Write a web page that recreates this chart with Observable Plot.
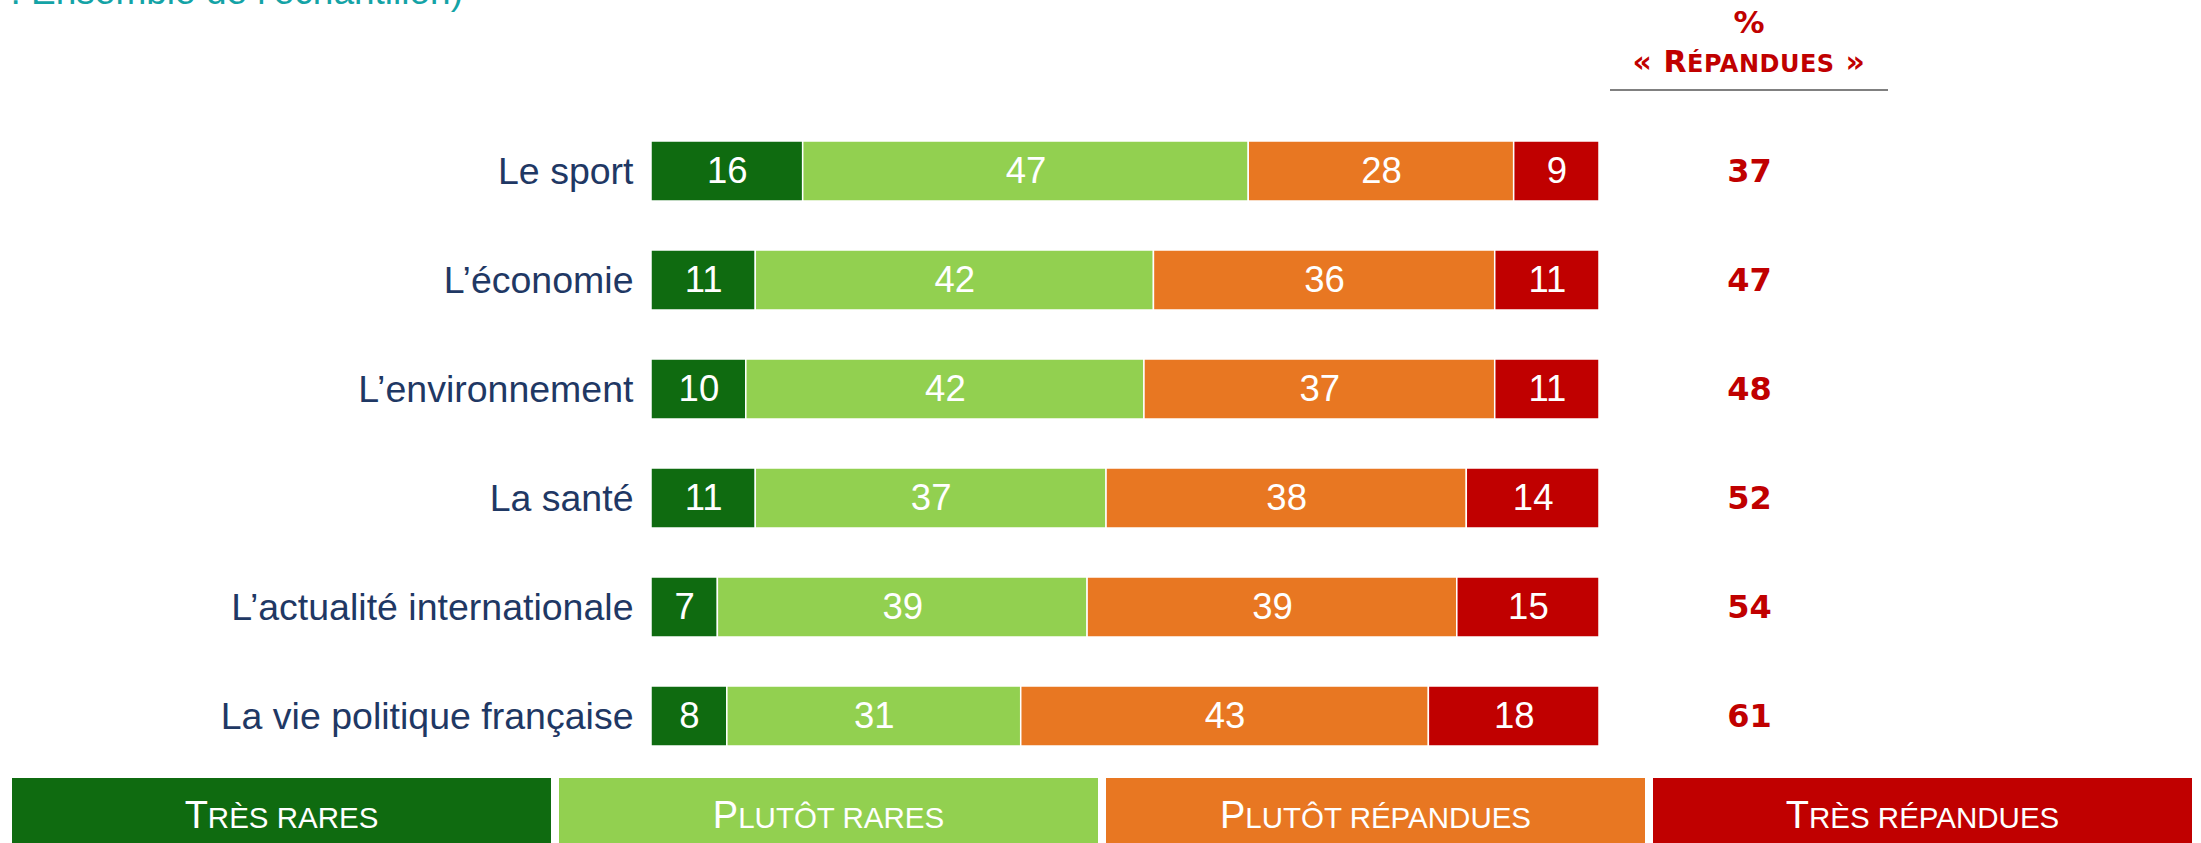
<!DOCTYPE html>
<html>
<head>
<meta charset="utf-8">
<script src="https://cdn.jsdelivr.net/npm/d3@7"></script>
<script src="https://cdn.jsdelivr.net/npm/@observablehq/plot@0.6"></script>
<style>
  html, body { margin: 0; padding: 0; background: #fff; }
  body { width: 2201px; height: 843px; overflow: hidden; position: relative; font-family: "Liberation Sans", Arial, sans-serif; }
  #chart { position: absolute; left: 0; top: 0; }
  .abs { position: absolute; white-space: nowrap; }
  #subtitle { left: 463px; top: -27px; transform: translateX(-100%); font-size: 37px; line-height: 37px; color: #14a3a6; }
  .hdr { left: 1749px; transform: translateX(-50%); font-family: "DejaVu Sans", sans-serif; font-weight: bold; color: #c00000; }
  #pct { top: 7px; font-size: 31px; line-height: 31px; }
  #rep { top: 47px; font-size: 30px; line-height: 30px; letter-spacing: 0.5px; }
  #rule { left: 1610px; top: 89px; width: 278px; height: 2px; background: #808080; }
  .leg { top: 778px; width: 539px; height: 65px; color: #fff; text-align: center; font-size: 38px; line-height: 38px; padding-top: 18px; box-sizing: border-box; }
</style>
</head>
<body>
<div id="chart"></div>
<script>
// ---- data ----
const topics = ["Le sport", "L’économie", "L’environnement", "La santé", "L’actualité internationale", "La vie politique française"];
const categories = ["Très rares", "Plutôt rares", "Plutôt répandues", "Très répandues"];
const colors = ["#0f6b10", "#92d050", "#e87722", "#c00000"];
const tresRares = [16, 11, 10, 11, 7, 8];
const plutotRares = [47, 42, 42, 37, 39, 31];
const plutotRepandues = [28, 36, 37, 38, 39, 43];
const tresRepandues = [9, 11, 11, 14, 15, 18];
const repandues = [37, 47, 48, 52, 54, 61];
const subtitle = "(Base : Ensemble de l’échantillon)";
const headerPct = "%";
const headerLabel = "Répandues";

// ---- build tables ----
const series = [tresRares, plutotRares, plutotRepandues, tresRepandues];
const rows = [];
topics.forEach((t, i) => {
  categories.forEach((c, j) => rows.push({topic: t, category: c, value: series[j][i]}));
});
const totals = topics.map((t, i) => ({topic: t, repandues: repandues[i]}));

const plot = Plot.plot({
  width: 2201,
  height: 843,
  marginLeft: 651,
  marginRight: 602,
  marginTop: 140,
  marginBottom: 96,
  style: {fontFamily: "'Liberation Sans', Arial, sans-serif", background: "transparent", overflow: "visible"},
  x: {domain: [0, 100], axis: null},
  y: {domain: topics, paddingInner: 0.45, paddingOuter: 0, label: null},
  color: {domain: categories, range: colors},
  marks: [
    Plot.barX(rows, Plot.stackX({x: "value", y: "topic", fill: "category", stroke: "white", strokeWidth: 1.5})),
    Plot.text(rows, Plot.stackX({x: "value", y: "topic", z: "category", text: d => String(d.value), fill: "white", fontSize: 36.5})),
    Plot.text(totals, {y: "topic", text: d => String(d.repandues), frameAnchor: "right", dx: 150, textAnchor: "middle",
      fill: "#c00000", fontSize: 32, fontWeight: "bold", fontFamily: "'DejaVu Sans', sans-serif"}),
    Plot.axisY({tickSize: 0, tickPadding: 18, fontSize: 37.5, color: "#1f3864", label: null})
  ]
});
document.getElementById("chart").appendChild(plot);

// ---- subtitle (cut off at top in the reference) ----
const sub = document.createElement("div");
sub.className = "abs"; sub.id = "subtitle"; sub.textContent = subtitle;
document.body.appendChild(sub);

// ---- header over the right column ----
const pct = document.createElement("div");
pct.className = "abs hdr"; pct.id = "pct"; pct.textContent = headerPct;
document.body.appendChild(pct);
const rep = document.createElement("div");
rep.className = "abs hdr"; rep.id = "rep";
const up = headerLabel.toUpperCase();
rep.innerHTML = "« " + up[0] + "<span style='font-size:24px'>" + up.slice(1) + "</span> »";
document.body.appendChild(rep);
const rule = document.createElement("div");
rule.className = "abs"; rule.id = "rule";
document.body.appendChild(rule);

// ---- legend boxes ----
categories.forEach((c, j) => {
  const d = document.createElement("div");
  d.className = "abs leg";
  d.style.left = (12 + j * 547) + "px";
  d.style.background = colors[j];
  d.innerHTML = c[0].toUpperCase() + "<span style='font-size:29.5px'>" + c.slice(1).toUpperCase() + "</span>";
  document.body.appendChild(d);
});
</script>
</body>
</html>
